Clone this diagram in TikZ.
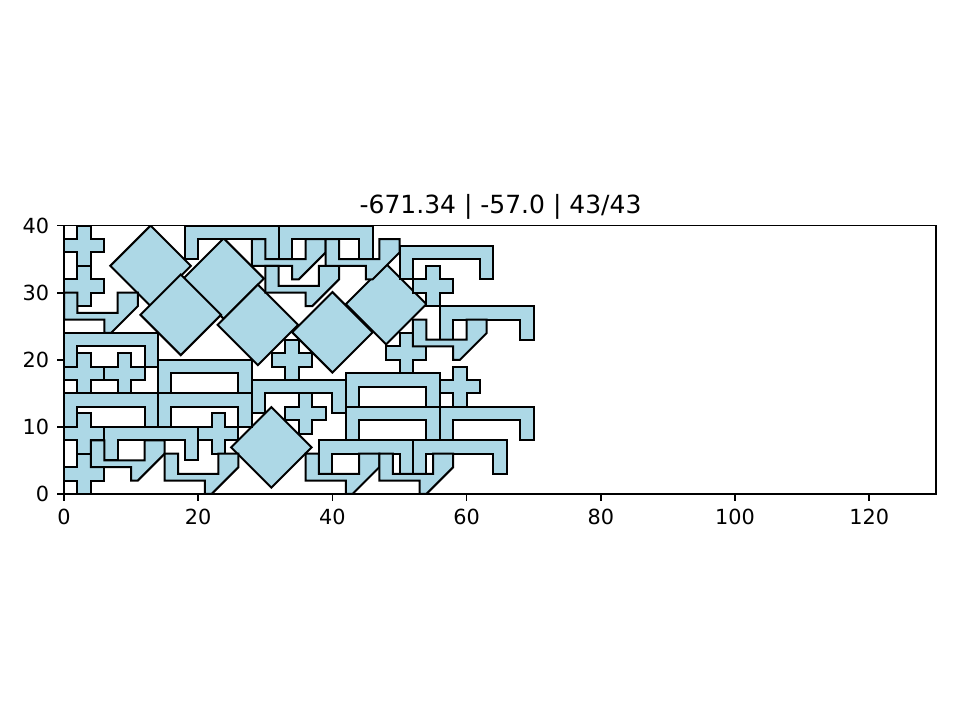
\documentclass[tikz,border=0pt]{standalone}
\usepackage{fontspec}
\setmainfont{DejaVu Sans}
\definecolor{lb}{HTML}{ADD8E6}
\tikzset{
  shp/.style={fill=lb, draw=black, line width=1.5pt, line join=miter},
  tickfont/.style={font=\fontsize{15.6pt}{18pt}\selectfont, inner sep=0pt},
}
\newcommand\drawCross[2]{\draw[shp,shift={(#1,#2)}] (2,0)--(4,0)--(4,2)--(6,2)--(6,4)--(4,4)--(4,6)--(2,6)--(2,4)--(0,4)--(0,2)--(2,2)--cycle;}
\newcommand\drawU[2]{\draw[shp,shift={(#1,#2)}] (0,0)--(0,5)--(14,5)--(14,0)--(12,0)--(12,3)--(2,3)--(2,0)--cycle;}
\newcommand\drawHook[2]{\draw[shp,shift={(#1,#2)}] (0,6)--(2,6)--(2,3)--(8,3)--(8,6)--(11,6)--(11,4)--(7,0)--(6,0)--(6,2)--(0,2)--cycle;}
\newcommand\drawDiam[2]{\draw[shp,shift={(#1,#2)}] (6,0)--(0,6)--(-6,0)--(0,-6)--cycle;}
\begin{document}
\begin{tikzpicture}[x=1pt,y=1pt]
\useasboundingbox (0,0) rectangle (720,540);
\node[anchor=base, font=\fontsize{18.75pt}{22pt}\selectfont, inner sep=0pt] (title) at (375.4,379.9) {-671.34 | -57.0 | 43/43};
\begin{scope}[shift={(48,169.5)}, x=5.0325pt, y=5.0325pt]
  \begin{scope}
    \clip (0,0) rectangle (130,40);
    % diamonds
    \drawDiam{12.9}{34}
    \drawDiam{23.8}{32.1}
    \drawDiam{17.4}{26.7}
    \drawDiam{28.9}{25.2}
    \drawDiam{40}{24.1}
    \drawDiam{48}{28.3}
    \drawDiam{30.9}{6.95}
    % crosses
    \drawCross{0}{34}
    \drawCross{0}{28}
    \drawCross{52}{28}
    \drawCross{31}{17}
    \drawCross{48}{18}
    \drawCross{0}{15}
    \drawCross{6}{15}
    \drawCross{56}{13}
    \drawCross{33}{9}
    \drawCross{20}{6}
    \drawCross{0}{6}
    \drawCross{0}{0}
    % U shapes
    \drawU{18}{35}
    \drawU{32}{35}
    \drawU{50}{32}
    \drawU{56}{23}
    \drawU{0}{19}
    \drawU{14}{15}
    \drawU{0}{10}
    \drawU{14}{10}
    \drawU{28}{12}
    \drawU{42}{13}
    \drawU{42}{8}
    \drawU{56}{8}
    \drawU{6}{5}
    \drawU{38}{3}
    \drawU{52}{3}
    % hooks
    \drawHook{0}{24}
    \drawHook{28}{32}
    \drawHook{30}{28}
    \drawHook{39}{32}
    \drawHook{52}{20}
    \drawHook{4}{2}
    \drawHook{15}{0}
    \drawHook{36}{0}
    \drawHook{47}{0}
  \end{scope}
  \draw[line width=1.25pt] (0,0) rectangle (130,40);
  \foreach \v in {0,20,...,120} {
    \draw[line width=1.25pt] (\v,0) -- ++(0pt,-5.47pt);
    \node[tickfont, anchor=north] (xt\v) at ([yshift=-10.94pt]\v,0) {\v};
  }
  \foreach \v in {0,10,...,40} {
    \draw[line width=1.25pt] (0,\v) -- ++(-5.47pt,0pt);
    \node[tickfont, anchor=east] (yt\v) at ([xshift=-10.94pt]0,\v) {\v};
  }
\end{scope}
\end{tikzpicture}
\end{document}
